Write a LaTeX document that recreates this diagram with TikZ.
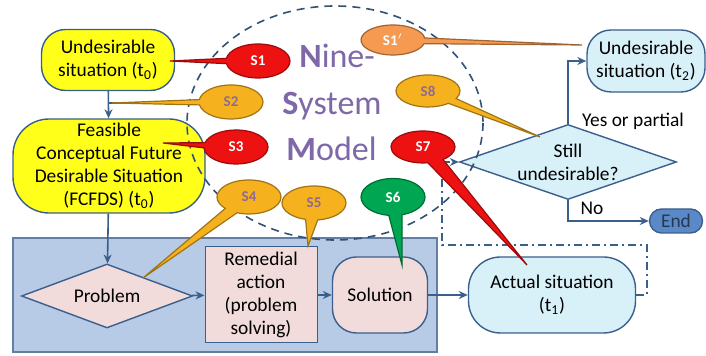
\documentclass[tikz,border=0pt]{standalone}
\usepackage{fontspec}
\setmainfont{Carlito}
\usetikzlibrary{shapes.geometric,shapes.callouts,arrows.meta}
\definecolor{edgeblue}{HTML}{3B5F8C}
\definecolor{boxyellow}{HTML}{FFFF1A}
\definecolor{boxcyan}{HTML}{D8F1F8}
\definecolor{boxpink}{HTML}{F2DCDB}
\definecolor{panelblue}{HTML}{B7CAE6}
\definecolor{endblue}{HTML}{5B88C6}
\definecolor{titlepurple}{HTML}{7E68A8}
\definecolor{sred}{HTML}{EE1111}
\definecolor{sgold}{HTML}{F6B21E}
\definecolor{sorange}{HTML}{F59A50}
\definecolor{sgreen}{HTML}{00A651}
\definecolor{goldtext}{HTML}{8D6B94}

\begin{document}
\begin{tikzpicture}[x=0.5pt,y=-0.5pt,
  font=\fontsize{9.7}{11.5}\selectfont,
  box/.style={draw=edgeblue, line width=0.7pt, align=center, inner sep=1pt},
  flow/.style={draw=edgeblue, line width=0.8pt, -{Stealth[length=4.5pt,width=4pt]}},
  loopline/.style={draw=edgeblue, line width=0.7pt, dash pattern=on 4pt off 2pt on 1pt off 2pt},
  bubble/.style={ellipse callout, callout pointer arc=18, draw=#1!65!black, fill=#1,
    line width=0.6pt, minimum width=32pt, minimum height=17pt, inner sep=0pt,
    font=\fontsize{7.5}{8}\selectfont\bfseries},
  title/.style={text=titlepurple, anchor=base west, inner sep=0pt, font=\fontsize{17}{20}\selectfont}]
\useasboundingbox (0,0) rectangle (706,356);

% problem solving panel
\draw[draw=edgeblue!80, fill=panelblue, line width=0.7pt] (13,238) rectangle (437,352);

\node[box, fill=boxyellow, rounded corners=12pt, minimum width=66.5pt, minimum height=30.5pt] (ua) at (108,60) {Undesirable\\situation (t\textsubscript{0})};
\node[box, fill=boxyellow, rounded corners=18pt, minimum width=96pt, minimum height=47pt] (fc) at (109,166) {Feasible\\Conceptual Future\\Desirable Situation\\(FCFDS) (t\textsubscript{0})};
\node[box, fill=boxpink, diamond, aspect=2.7, inner sep=0pt, minimum width=85.5pt, minimum height=32pt] (pb) at (107,296) {Problem};
\node[box, fill=boxpink, line width=0.5pt, minimum width=56pt, minimum height=48pt] (ra) at (261,295) {Remedial\\action\\(problem\\solving)};
\node[box, fill=boxpink, rounded corners=12pt, minimum width=47.5pt, minimum height=38pt] (so) at (380,295) {Solution};
\node[box, fill=boxcyan, rounded corners=16pt, minimum width=83.5pt, minimum height=38pt] (as) at (552,295) {Actual situation\\(t\textsubscript{1})};
\node[box, fill=boxcyan, diamond, aspect=2.9, inner sep=0pt, minimum width=108.5pt, minimum height=37.5pt] (su) at (568,162) {Still\\undesirable?};
\node[box, fill=boxcyan, rounded corners=12pt, minimum width=59pt, minimum height=31pt] (ub) at (646,61) {Undesirable\\situation (t\textsubscript{2})};
\node[box, fill=endblue, text=edgeblue!60!black, rounded corners=6pt, minimum width=26.5pt, minimum height=12pt] (en) at (676,221) {End};

\coordinate (br) at (108,103);
\coordinate (lp1) at (647,295);
\coordinate (lp2) at (647,245);
\coordinate (lp3) at (442,245);
\coordinate (lp4) at (442,162);

\draw[flow] (ua) -- (fc);
\draw[draw=edgeblue, line width=0.8pt] (br) -- (205,103);
\draw[flow] (fc) -- (pb);
\draw[flow] (pb) -- (ra);
\draw[flow] (ra) -- (so);
\draw[flow] (so) -- (as);
\draw[loopline] (as.east) -- (lp1) -- (lp2) -- (lp3) -- (lp4);
\draw[loopline, -{Stealth[length=4.5pt,width=4pt]}] (lp4) -- (su.west);
\draw[flow] (su.north) |- (ub.west);
\draw[flow] (su.south) |- (en.west);

\node (yes) at (633,121) {Yes or partial};
\node (no) at (592,208) {No};

% nine-system circle
\draw[draw=edgeblue!85!black, line width=0.8pt, dash pattern=on 4pt off 3pt] (335,123) ellipse [x radius=148, y radius=117];
\node[title] (t1) at (299,68) {\textbf{N}ine-};
\node[title] (t2) at (282,115) {\textbf{S}ystem};
\node[title] (t3) at (286,161) {\textbf{M}odel};

% callouts
\coordinate (p1) at (170,61);
\coordinate (p2) at (112,103);
\coordinate (p3) at (163,143);
\coordinate (p4) at (143,278);
\coordinate (p5) at (308,246);
\coordinate (p6) at (402,265);
\coordinate (p7) at (527,265);
\coordinate (p8) at (540,137);
\coordinate (p1b) at (582,45);

\node[bubble=sred, text=white, callout absolute pointer={(p1)}] (s1) at (258,61) {S1};
\node[bubble=sgold, text=goldtext, callout absolute pointer={(p2)}] (s2) at (231,102) {S2};
\node[bubble=sred, text=white, callout absolute pointer={(p3)}] (s3) at (236,147) {S3};
\node[bubble=sgold, text=goldtext, callout pointer arc=26, callout absolute pointer={(p4)}] (s4) at (249,197) {S4};
\node[bubble=sgold, text=goldtext, callout pointer arc=22, callout absolute pointer={(p5)}] (s5) at (314,203) {S5};
\node[bubble=sgreen, text=white, minimum height=18.5pt, callout pointer arc=24, callout absolute pointer={(p6)}] (s6) at (393,197) {S6};
\node[bubble=sred, text=white, minimum height=16pt, callout pointer arc=30, callout absolute pointer={(p7)}] (s7) at (423,147) {S7};
\node[bubble=sgold, text=goldtext, minimum height=16pt, callout pointer arc=22, callout absolute pointer={(p8)}] (s8) at (428,91) {S8};
\node[bubble=sorange, text=white, minimum height=15pt, callout pointer arc=22, callout absolute pointer={(p1b)}] (s1b) at (393,40) {S1$'$};

\end{tikzpicture}
\end{document}
